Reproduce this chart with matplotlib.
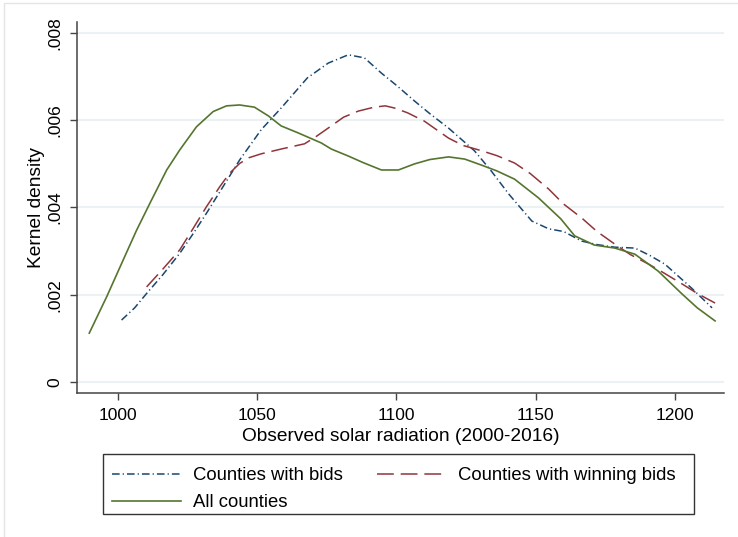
import matplotlib
matplotlib.use("Agg")
import matplotlib.pyplot as plt
from matplotlib.patches import Rectangle

plt.rcParams['font.family'] = ['Liberation Sans', 'DejaVu Sans']

# Kernel density estimates of observed solar radiation
bids_x = [1001.3, 1006, 1010.3, 1016, 1022.2, 1027, 1031.8, 1036, 1043.7, 1051.4, 1058.6,
          1068, 1075.5, 1082.7, 1088.5, 1094.6, 1100, 1106.5, 1112, 1118.7, 1128,
          1134, 1140.3, 1148.6, 1154.7, 1160, 1166.5, 1172, 1178.4, 1185.6, 1191,
          1196.4, 1202, 1206, 1213.3]
bids_y = [0.00142, 0.0017, 0.00203, 0.00245, 0.00295, 0.0034, 0.00387, 0.0043, 0.00509, 0.00578, 0.00628,
          0.00697, 0.00731, 0.0075, 0.00743, 0.00708, 0.0068, 0.00644, 0.00615, 0.00582, 0.0053,
          0.00484, 0.00431, 0.00369, 0.00351, 0.00345, 0.00323, 0.00315, 0.00309, 0.00307, 0.0029,
          0.0027, 0.00238, 0.00215, 0.0017]

win_x = [1010.3, 1016, 1022.2, 1027, 1031.8, 1036.6, 1040, 1043.7, 1047, 1051.4, 1058.6,
         1067, 1071, 1076.6, 1081, 1086.3, 1092, 1096, 1099.3, 1104, 1110,
         1118.7, 1124, 1130.6, 1136, 1142.4, 1148, 1154.7, 1160, 1166.5, 1172,
         1178.4, 1184, 1190.6, 1196, 1202.5, 1208, 1214.4]
win_y = [0.00218, 0.00258, 0.00303, 0.00352, 0.00402, 0.00448, 0.00478, 0.00501, 0.00514, 0.00523, 0.00534,
         0.00546, 0.00562, 0.00587, 0.00607, 0.00621, 0.0063, 0.00633, 0.00628, 0.00617, 0.00598,
         0.00559, 0.00542, 0.0053, 0.00519, 0.00502, 0.00478, 0.00442, 0.00408, 0.00376, 0.00345,
         0.00316, 0.00292, 0.0027, 0.0025, 0.00225, 0.00203, 0.00181]

all_x = [989.7, 996, 1001.9, 1006.7, 1011.5, 1017.5, 1022.2, 1028.2, 1034.2, 1039,
         1043.7, 1049, 1054, 1058.6, 1064.7, 1073, 1076.6, 1082.7, 1088, 1094.6,
         1100.7, 1106.5, 1112, 1118.7, 1124.5, 1130.6, 1136, 1142.4, 1151, 1159,
         1164, 1171, 1178.4, 1185.6, 1194, 1202.5, 1208, 1214.4]
all_y = [0.00112, 0.00196, 0.0028, 0.00348, 0.0041, 0.00486, 0.00532, 0.00585, 0.0062, 0.00633,
         0.00635, 0.0063, 0.0061, 0.00587, 0.00571, 0.00548, 0.00534, 0.00518, 0.00503, 0.00486,
         0.00486, 0.005, 0.0051, 0.00516, 0.00511, 0.00497, 0.00484, 0.00465, 0.00422, 0.00374,
         0.00335, 0.00314, 0.00307, 0.00293, 0.00254, 0.00202, 0.0017, 0.0014]

x_ticks = [1000, 1050, 1100, 1150, 1200]
y_ticks = [0, 0.002, 0.004, 0.006, 0.008]
y_labels = ['0', '.002', '.004', '.006', '.008']

navy, maroon, green = '#1a476f', '#90353b', '#55752f'

W, H = 738, 537
fig = plt.figure(figsize=(W / 100, H / 100), dpi=100)
ax = fig.add_axes([77/W, 1 - 393/H, (724 - 77)/W, (393 - 22)/H])

# light outline of the graph region
fig.patches.append(Rectangle((4/W, -0.1), 1.2, 1.1 - 3/H, transform=fig.transFigure,
                             fill=False, edgecolor='#e4e4e4', linewidth=1.0))

lb, = ax.plot(bids_x, bids_y, color=navy, lw=1.1, linestyle=(0, (5, 2, 0.8, 2)))
lw_, = ax.plot(win_x, win_y, color=maroon, lw=1.1, linestyle=(0, (11, 4.5)))
la, = ax.plot(all_x, all_y, color=green, lw=1.2, linestyle='-')

ax.set_xlim(985.3, 1217.6)
ax.set_ylim(-0.000252, 0.008252)
ax.set_xticks(x_ticks)
ax.set_yticks(y_ticks)
ax.set_yticklabels(y_labels, rotation=90, va='center')
ax.grid(axis='y', color='#eaf2f3', linewidth=1.5)
ax.set_axisbelow(True)

for s in ['top', 'right']:
    ax.spines[s].set_visible(False)
for s in ['left', 'bottom']:
    ax.spines[s].set_color('#444444')
    ax.spines[s].set_linewidth(1.1)
ax.tick_params(axis='both', length=5, width=1.0, color='#444444', labelsize=12.5, pad=5.5)

ax.set_xlabel('Observed solar radiation (2000-2016)', fontsize=13.8, labelpad=4)
ax.set_ylabel('Kernel density', fontsize=13.8, labelpad=2)

# legend entries without their own frame; the box is drawn separately
leg = fig.legend([lb, la, lw_], ['Counties with bids', 'All counties', 'Counties with winning bids'],
                 ncol=2, loc='upper left', bbox_to_anchor=(103/W, 1 - 458/H),
                 borderaxespad=0, fontsize=13.3, frameon=False,
                 handlelength=3.73, handletextpad=0.65, columnspacing=1.84,
                 labelspacing=0.54, borderpad=0.5)
fig.patches.append(Rectangle((103/W, 1 - 514/H), (694 - 103)/W, (514 - 454)/H,
                             transform=fig.transFigure, fill=False,
                             edgecolor='#333333', linewidth=1.0))

fig.savefig('out.png', dpi=100)
